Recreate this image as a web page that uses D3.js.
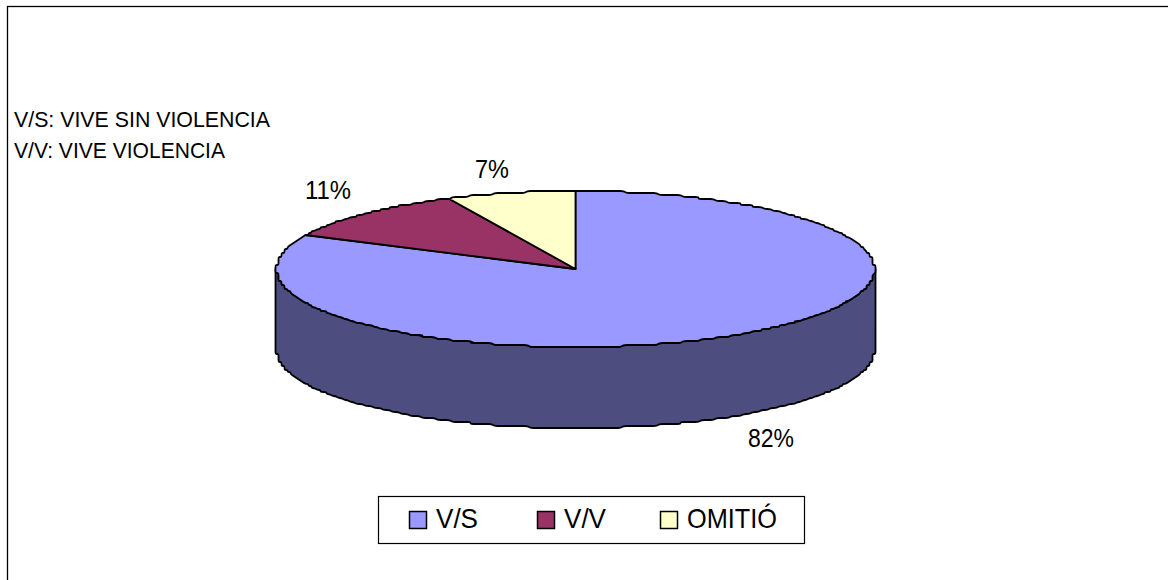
<!DOCTYPE html>
<html>
<head>
<meta charset="utf-8">
<script src="https://cdn.jsdelivr.net/npm/d3@7"></script>
<style>
  html, body { margin: 0; padding: 0; background: #fff; overflow: hidden; }
  svg { display: block; }
  text { font-family: "Liberation Sans", Arial, sans-serif; fill: #000; }
</style>
</head>
<body>
<div id="chart"></div>
<script>
const categories = ["V/S", "V/V", "OMITIÓ"];
const values = [82, 11, 7];
const labels = ["82%", "11%", "7%"];
const notes = ["V/S: VIVE SIN VIOLENCIA", "V/V: VIVE VIOLENCIA"];
const topColors = ["#9999ff", "#993366", "#ffffcc"];
const sideColor = "#4d4d80";

const W = 1168, H = 580;
const cx = 575.5, cy = 269, rx = 299, ry = 78, depth = 81;
const lineW = 1.8;

const svg = d3.select("#chart").append("svg")
  .attr("width", W)
  .attr("height", H);

// chart frame: only left and top edges fall inside the picture
svg.append("rect")
  .attr("x", 7.5).attr("y", 6.5)
  .attr("width", 1170).attr("height", 590)
  .attr("fill", "#fff").attr("stroke", "#000").attr("stroke-width", 1.3);

notes.forEach((t, i) => {
  svg.append("text")
    .attr("x", 14).attr("y", 127 + i * 31)
    .attr("font-size", "22px")
    .attr("textLength", i == 0 ? 256 : 211)
    .attr("lengthAdjust", "spacingAndGlyphs")
    .text(t);
});

// ellipse point for a pie angle (0 = 12 o'clock, clockwise), snapped to a
// coarse grid so the rim has the same rough look as the original
const snap = (v, s) => Math.round(v / s) * s;
const rim = (a, dy = 0) => [
  cx + snap(rx * Math.sin(a), 3),
  cy + dy + snap(-ry * Math.cos(a), 2),
];
const rimLine = d3.line().curve(d3.curveBasis);

function rimPoints(a0, a1, dy) {
  const n = Math.ceil(Math.abs(a1 - a0) / 0.01);
  const pts = d3.range(n + 1).map((i) => rim(a0 + ((a1 - a0) * i) / n, dy));
  return pts.filter((p, i) => i == 0 || p[0] != pts[i - 1][0] || p[1] != pts[i - 1][1]);
}

// side wall of the pie (front half of the rim, pushed down)
const front = rimLine(rimPoints(Math.PI * 0.5, Math.PI * 1.5, depth));
const back = rimLine(rimPoints(Math.PI * 1.5, Math.PI * 0.5, 0));
svg.append("path")
  .attr("d", `${front}L${back.slice(1)}Z`)
  .attr("fill", sideColor)
  .attr("stroke", "#000")
  .attr("stroke-width", lineW)
  .attr("stroke-linejoin", "round");

// pie top
const pie = d3.pie().sort(null).value((d) => d);
const slices = pie(values);

svg.append("g")
  .selectAll("path")
  .data(slices)
  .enter()
  .append("path")
  .attr("d", (d) => `M${cx},${cy}L${rimLine(rimPoints(d.startAngle, d.endAngle, 0)).slice(1)}Z`)
  .attr("fill", (d, i) => topColors[i])
  .attr("stroke", "#000")
  .attr("stroke-width", lineW)
  .attr("stroke-linejoin", "round");

// data labels, slightly condensed like the stretched original
const labelPos = [[771, 447], [328, 199], [492, 178]];
labels.forEach((t, i) => {
  svg.append("text")
    .attr("x", labelPos[i][0]).attr("y", labelPos[i][1])
    .attr("text-anchor", "middle")
    .attr("font-size", "26px")
    .attr("textLength", i == 2 ? 34 : 46)
    .attr("lengthAdjust", "spacingAndGlyphs")
    .text(t);
});

// legend
const legend = svg.append("g");
legend.append("rect")
  .attr("x", 378.5).attr("y", 496.5)
  .attr("width", 426).attr("height", 47)
  .attr("fill", "#fff").attr("stroke", "#000").attr("stroke-width", 1.2);

const legendX = [409, 537, 660];
categories.forEach((c, i) => {
  legend.append("rect")
    .attr("x", legendX[i] + 0.5).attr("y", 511.5)
    .attr("width", 17).attr("height", 17)
    .attr("fill", topColors[i])
    .attr("stroke", "#000")
    .attr("stroke-width", 1.5);
  legend.append("text")
    .attr("x", legendX[i] + 27).attr("y", 528)
    .attr("font-size", "28px")
    .attr("textLength", i == 2 ? 90 : 42)
    .attr("lengthAdjust", "spacingAndGlyphs")
    .text(c);
});
</script>
</body>
</html>
